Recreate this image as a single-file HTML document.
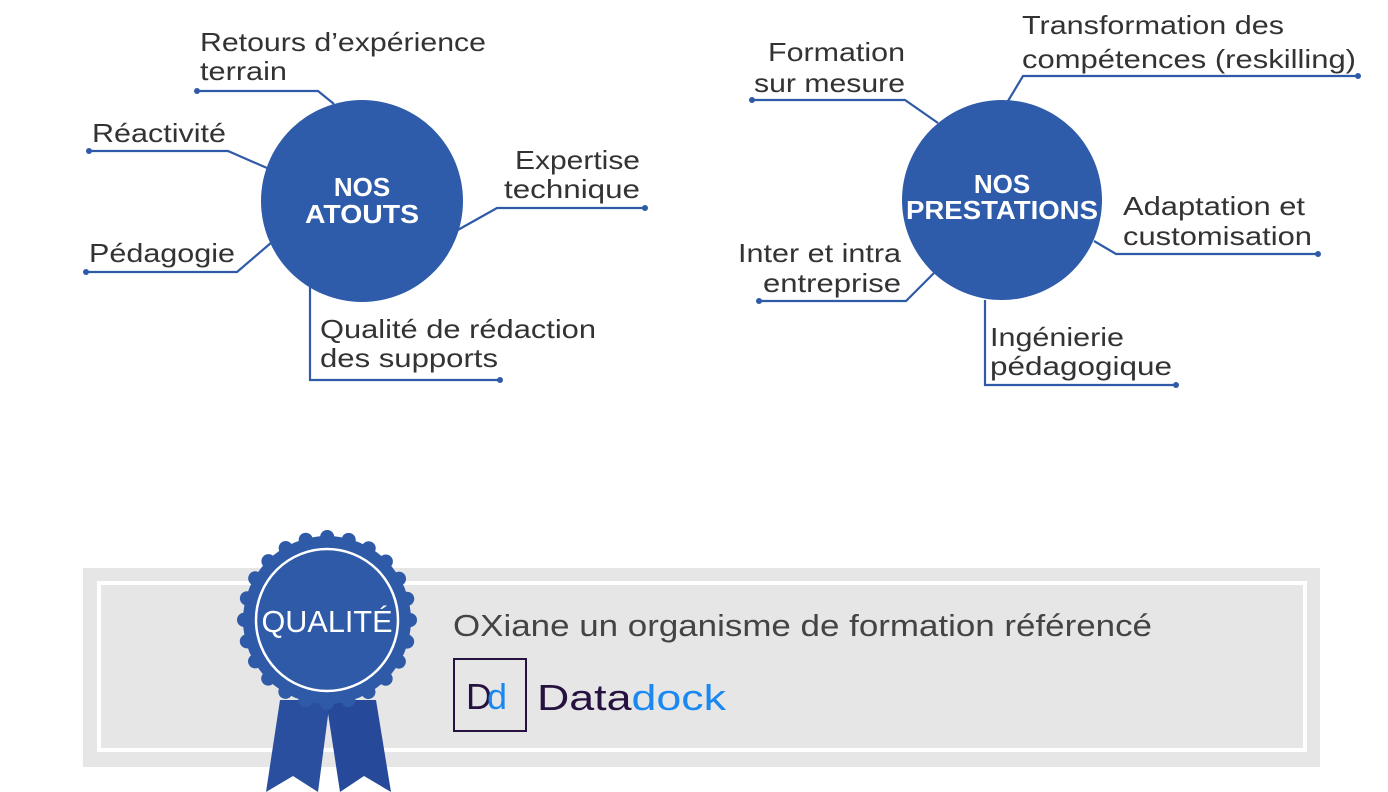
<!DOCTYPE html>
<html><head><meta charset="utf-8"><style>
html,body{margin:0;padding:0;background:#fff;}
svg{display:block}
text{font-family:"Liberation Sans",sans-serif;}
.t{fill:#333;font-size:26px;}
</style></head><body>
<svg width="1388" height="792" viewBox="0 0 1388 792" xmlns="http://www.w3.org/2000/svg">
<g fill="none" stroke="#2f5aa8" stroke-width="2.2">
<polyline points="197,91 318,91 334,104"/>
<polyline points="89,151 228,151 267,168"/>
<polyline points="86,272 237,272 272,242"/>
<polyline points="645,208 497,208 456,231"/>
<polyline points="500,380 310,380 310,287"/>
<polyline points="752,100 905,100 938,123"/>
<polyline points="1358,76 1023,76 1008,101"/>
<polyline points="759,301 906,301 935,272"/>
<polyline points="1318,254 1116,254 1094,241"/>
<polyline points="1176,385 985,385 985,300"/>
</g>
<g fill="#2f5aa8">
<circle cx="197" cy="91" r="3"/><circle cx="89" cy="151" r="3"/><circle cx="86" cy="272" r="3"/>
<circle cx="645" cy="208" r="3"/><circle cx="500" cy="380" r="3"/><circle cx="752" cy="100" r="3"/>
<circle cx="1358" cy="76" r="3"/><circle cx="759" cy="301" r="3"/><circle cx="1318" cy="254" r="3"/>
<circle cx="1176" cy="385" r="3"/>
<circle cx="362" cy="201" r="101" fill="#2e5caa"/>
<circle cx="1002" cy="200" r="100" fill="#2e5caa"/>
</g>
<g fill="#fff" font-weight="bold" font-size="26" text-anchor="middle">
<text x="362" y="196">NOS</text><text x="362" y="223" textLength="114" lengthAdjust="spacingAndGlyphs">ATOUTS</text>
<text x="1002" y="193">NOS</text><text x="1002" y="219" textLength="192" lengthAdjust="spacingAndGlyphs">PRESTATIONS</text>
</g>
<g class="t">
<text x="200" y="51" textLength="286" lengthAdjust="spacingAndGlyphs">Retours d’expérience</text><text x="200" y="80" textLength="87" lengthAdjust="spacingAndGlyphs">terrain</text>
<text x="92" y="142" textLength="134" lengthAdjust="spacingAndGlyphs">Réactivité</text>
<text x="89" y="262" textLength="146" lengthAdjust="spacingAndGlyphs">Pédagogie</text>
<text x="515" y="169" textLength="125" lengthAdjust="spacingAndGlyphs">Expertise</text><text x="504" y="198" textLength="136" lengthAdjust="spacingAndGlyphs">technique</text>
<text x="320" y="338" textLength="276" lengthAdjust="spacingAndGlyphs">Qualité de rédaction</text><text x="320" y="367" textLength="178" lengthAdjust="spacingAndGlyphs">des supports</text>
<text x="768" y="61" textLength="137" lengthAdjust="spacingAndGlyphs">Formation</text><text x="754" y="92" textLength="151" lengthAdjust="spacingAndGlyphs">sur mesure</text>
<text x="1022" y="34" textLength="262" lengthAdjust="spacingAndGlyphs">Transformation des</text><text x="1022" y="68" textLength="334" lengthAdjust="spacingAndGlyphs">compétences (reskilling)</text>
<text x="738" y="262" textLength="163" lengthAdjust="spacingAndGlyphs">Inter et intra</text><text x="763" y="292" textLength="138" lengthAdjust="spacingAndGlyphs">entreprise</text>
<text x="1123" y="215" textLength="182" lengthAdjust="spacingAndGlyphs">Adaptation et</text><text x="1123" y="245" textLength="189" lengthAdjust="spacingAndGlyphs">customisation</text>
<text x="990" y="346" textLength="134" lengthAdjust="spacingAndGlyphs">Ingénierie</text><text x="990" y="375" textLength="182" lengthAdjust="spacingAndGlyphs">pédagogique</text>
</g>
<rect x="83" y="568" width="1237" height="199" fill="#e6e6e6"/>
<rect x="99" y="583" width="1206" height="167" fill="#e6e6e6" stroke="#fff" stroke-width="4"/>
<text x="453" y="636" font-size="31" fill="#444" textLength="699" lengthAdjust="spacingAndGlyphs">OXiane un organisme de formation référencé</text>
<rect x="454" y="659" width="72" height="72" fill="none" stroke="#26123f" stroke-width="2"/>
<text x="466" y="709" font-size="36" fill="#26123f">D</text>
<text x="487" y="709" font-size="36" fill="#1a88f0">d</text>
<text x="537" y="710" font-size="36" fill="#26123f" textLength="189" lengthAdjust="spacingAndGlyphs">Data<tspan fill="#1a88f0">dock</tspan></text>
<polygon points="280,700 330,700 318,792 293,776 266,792" fill="#2a4f9e"/>
<polygon points="326,700 376,700 391,792 364,776 340,792" fill="#26499a"/>
<circle cx="327" cy="620" r="84" fill="#2e5aa8"/>
<circle cx="327" cy="620" r="83" fill="none" stroke="#2e5aa8" stroke-width="14" stroke-linecap="round" stroke-dasharray="0.1 21.63"/>
<circle cx="327" cy="620" r="71" fill="none" stroke="#fff" stroke-width="2.5"/>
<text x="327" y="632" text-anchor="middle" font-size="31" fill="#fff" textLength="131" lengthAdjust="spacingAndGlyphs">QUALITÉ</text>
</svg>
</body></html>
